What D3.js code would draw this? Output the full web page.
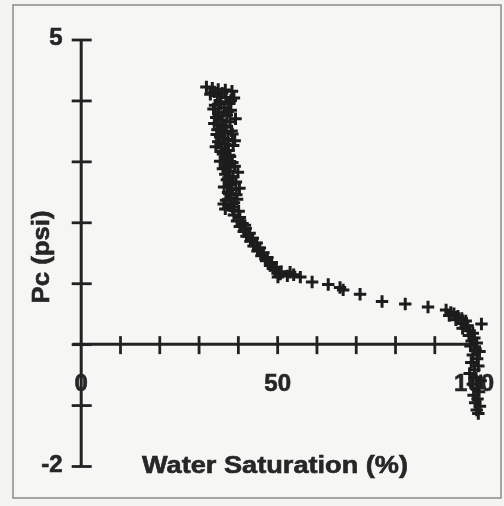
<!DOCTYPE html>
<html>
<head>
<meta charset="utf-8">
<script src="https://cdn.jsdelivr.net/npm/d3@7/dist/d3.min.js"></script>
<style>
  html, body { margin: 0; padding: 0; background: #f4f4f2; }
  svg { display: block; }
  text { font-family: "Liberation Sans", Arial, sans-serif; font-weight: bold; fill: #262626; }
</style>
</head>
<body>
<script>
// ---- data (Water saturation %, capillary pressure psi) ----
const swTop = [32.0,33.5,35.0,36.8,38.5,33.0,34.8,37.0,39.0,35.5,37.8,34.2,36.5,38.2,35.0,37.2,34.5,36.0,38.0,35.2,37.0,34.8,36.6,38.6,35.5,37.5,35.0,36.8,38.8,35.8,37.6,36.2,38.0,36.8,
               34.0,36.0,38.2,35.6,33.8,37.4,35.2,39.4,34.0,36.2,38.4,34.6,36.4,39.2,34.4,36.0,37.8];
const pcTop = [4.22,4.20,4.18,4.17,4.15,4.10,4.08,4.05,4.04,3.98,3.95,3.92,3.88,3.84,3.80,3.76,3.72,3.68,3.65,3.60,3.56,3.52,3.48,3.45,3.40,3.36,3.32,3.28,3.26,3.22,3.18,3.12,3.08,3.03,
               4.14,4.12,4.00,3.94,3.86,3.82,3.74,3.70,3.62,3.58,3.50,3.44,3.38,3.34,3.24,3.16,3.10];

const swMid = [35.5,37.4,39.2,36.2,38.0,36.8,38.8,37.2,39.5,37.8,36.5,38.5,37.5,39.6,38.2,37.0,39.0,38.0,36.8,38.8,40.2,
               38.6,36.8,40.0,37.6,38.4,40.4,37.8,39.8,36.4,38.6];
const pcMid = [3.00,2.96,2.92,2.88,2.84,2.79,2.75,2.70,2.66,2.62,2.58,2.54,2.49,2.45,2.40,2.36,2.32,2.27,2.22,2.20,2.18,
               2.98,2.90,2.82,2.73,2.64,2.56,2.47,2.38,2.30,2.25];

const swKnee = [39.0,40.5,39.8,41.2,40.5,42.0,41.5,43.0,42.2,43.8,43.2,44.8,44.0,45.6,45.0,46.5,46.0,47.5,47.2,48.6,48.2,49.8,49.5,51.0,50.8,52.6,53.3,55.9,58.9,
                41.8,43.4,45.2,47.0,48.9,50.2,54.2];
const pcKnee = [2.12,2.08,2.02,1.98,1.93,1.90,1.85,1.82,1.77,1.74,1.69,1.66,1.61,1.58,1.53,1.50,1.45,1.42,1.37,1.34,1.29,1.26,1.22,1.19,1.15,1.12,1.18,1.10,1.02,
                1.95,1.72,1.56,1.40,1.24,1.10,1.14];

const swTail = [63.0,66.0,66.8,71.1,76.7,82.6,88.4,93.0,94.2,95.0,93.8,96.0,97.0,95.5,98.0,96.8,102.0,98.5,97.2,99.0,99.8,98.8,100.2];
const pcTail = [0.98,0.93,0.89,0.82,0.70,0.66,0.61,0.56,0.52,0.50,0.47,0.46,0.42,0.40,0.38,0.34,0.33,0.30,0.26,0.22,0.18,0.14,0.10];

const swNeg = [99.5,100.8,99.2,100.5,101.5,99.8,100.9,99.4,101.2,100.2,99.0,100.6,101.8,99.8,100.8,101.4,100.0,101.0,100.4,101.6,100.8,101.2];
const pcNeg = [0.05,0.02,-0.03,-0.08,-0.12,-0.18,-0.24,-0.30,-0.36,-0.42,-0.48,-0.55,-0.60,-0.66,-0.72,-0.78,-0.84,-0.90,-0.96,-1.02,-1.08,-1.14];

const xTickValues = [0,10,20,30,40,50,60,70,80,90,100];
const xTickLabels = {0: "0", 50: "50", 100: "100"};
const yTickValues = [-2,-1,0,1,2,3,4,5];
const yTickLabels = {5: "5", "-2": "-2"};
const xTitle = "Water Saturation (%)";
const yTitle = "Pc (psi)";

const sw = [].concat(swTop, swMid, swKnee, swTail, swNeg);
const pc = [].concat(pcTop, pcMid, pcKnee, pcTail, pcNeg);
const points = sw.map((s, i) => ({sw: s, pc: pc[i]}));

// ---- layout ----
const W = 504, H = 506;
const svg = d3.select("body").append("svg").attr("width", W).attr("height", H);

const defs = svg.append("defs");
defs.append("filter").attr("id", "scan")
  .append("feGaussianBlur").attr("stdDeviation", 0.6);

// frame
svg.append("rect")
  .attr("x", 13).attr("y", 5).attr("width", 488).attr("height", 493)
  .attr("fill", "#f6f6f4").attr("stroke", "#8a8a8a").attr("stroke-width", 1.5);

const x = d3.scaleLinear().domain([0, 100]).range([80.7, 473.6]);
const y = d3.scaleLinear().domain([-2, 5]).range([466, 39.5]);

const g = svg.append("g").attr("filter", "url(#scan)");
const ink = "#242424";
const font = "'Liberation Sans', Arial, sans-serif";

// y axis
const yAxis = d3.axisLeft(y).tickValues(yTickValues).tickSize(0)
  .tickFormat(d => yTickLabels[d] || "");
const gy = g.append("g").attr("transform", `translate(${x(0)},0)`).call(yAxis);
gy.select(".domain").attr("stroke", ink).attr("stroke-width", 3);
gy.selectAll(".tick line").attr("x1", -9).attr("x2", 11).attr("stroke", ink).attr("stroke-width", 2.8);
gy.selectAll(".tick text")
  .attr("x", -18).attr("dy", null).attr("y", 5)
  .style("font-size", "24px").style("font-family", font)
  .style("font-weight", "bold").attr("fill", ink)
  .attr("stroke", ink).attr("stroke-width", 0.6).attr("text-anchor", "end");

// x axis at y = 0
const xAxis = d3.axisBottom(x).tickValues(xTickValues).tickSize(0)
  .tickFormat(d => xTickLabels[d] || "");
const gx = g.append("g").attr("transform", `translate(0,${y(0)})`).call(xAxis);
gx.select(".domain").attr("d", `M${x(0) - 8},0H${x(100)}`).attr("stroke", ink).attr("stroke-width", 3);
gx.selectAll(".tick line").attr("y1", -8).attr("y2", 10).attr("stroke", ink).attr("stroke-width", 2.8)
  .filter(d => d === 0).remove();
gx.selectAll(".tick text")
  .attr("y", 47).attr("dy", null)
  .style("font-size", "24px").style("font-family", font)
  .style("font-weight", "bold").attr("fill", ink)
  .attr("stroke", ink).attr("stroke-width", 0.6).attr("text-anchor", "middle");

// titles
g.append("text")
  .attr("x", 275).attr("y", 473)
  .attr("text-anchor", "middle")
  .attr("textLength", 266).attr("lengthAdjust", "spacingAndGlyphs")
  .attr("stroke", ink).attr("stroke-width", 0.6)
  .style("font-size", "24px")
  .text(xTitle);

g.append("text")
  .attr("transform", "translate(49,257) rotate(-90)")
  .attr("text-anchor", "middle")
  .attr("textLength", 93).attr("lengthAdjust", "spacingAndGlyphs")
  .attr("stroke", ink).attr("stroke-width", 0.6)
  .style("font-size", "24px")
  .text(yTitle);

// data markers: "+"
const arm = 6.2;
g.append("g").selectAll("path").data(points).join("path")
  .attr("d", d => `M${x(d.sw) - arm},${y(d.pc)}H${x(d.sw) + arm}M${x(d.sw)},${y(d.pc) - arm}V${y(d.pc) + arm}`)
  .attr("stroke", "#1c1c1c").attr("stroke-width", 3).attr("fill", "none");
</script>
</body>
</html>
